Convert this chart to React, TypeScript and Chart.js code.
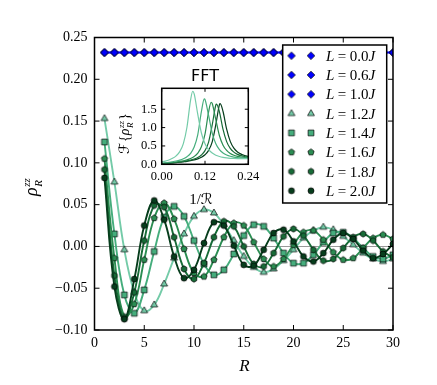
import React, { useEffect, useRef } from "react";
import { Chart, registerables } from "chart.js";

Chart.register(...registerables);

const W = 437;
const H = 385;

// ---------- main panel data ----------
const rValues = [1, 2, 3, 4, 5, 6, 7, 8, 9, 10, 11, 12, 13, 14, 15, 16, 17, 18, 19, 20, 21, 22, 23, 24, 25, 26, 27, 28, 29, 30];
const rhoUniform = [0.232, 0.232, 0.232, 0.232, 0.232, 0.232, 0.232, 0.232, 0.232, 0.232, 0.232, 0.232, 0.232, 0.232, 0.232, 0.232, 0.232, 0.232, 0.232, 0.232, 0.232, 0.232, 0.232, 0.232, 0.232, 0.232, 0.232, 0.232, 0.232, 0.232];
const rhoL12 = [0.153, 0.077, -0.004, -0.055, -0.077, -0.070, -0.045, -0.014, 0.015, 0.036, 0.044, 0.040, 0.026, 0.007, -0.012, -0.025, -0.031, -0.027, -0.017, -0.004, 0.010, 0.019, 0.023, 0.020, 0.012, 0.002, -0.008, -0.015, -0.018, -0.015];
const rhoL14 = [0.125, 0.015, -0.058, -0.080, -0.052, -0.006, 0.035, 0.048, 0.036, 0.007, -0.021, -0.034, -0.028, -0.009, 0.013, 0.026, 0.024, 0.010, -0.008, -0.020, -0.020, -0.010, 0.005, 0.016, 0.017, 0.010, -0.002, -0.012, -0.015, -0.010];
const rhoL16 = [0.105, -0.014, -0.084, -0.069, -0.016, 0.034, 0.052, 0.033, -0.003, -0.032, -0.036, -0.016, 0.011, 0.028, 0.025, 0.005, -0.015, -0.024, -0.015, 0.002, 0.017, 0.019, 0.008, -0.007, -0.016, -0.014, -0.002, 0.010, 0.014, 0.009];
const rhoL18 = [0.092, -0.035, -0.086, -0.055, 0.007, 0.049, 0.047, 0.011, -0.027, -0.039, -0.020, 0.011, 0.030, 0.024, 0.000, -0.021, -0.024, -0.008, 0.012, 0.021, 0.013, -0.004, -0.017, -0.015, -0.002, 0.011, 0.015, 0.007, -0.006, -0.013];
const rhoL20 = [0.082, -0.048, -0.087, -0.039, 0.025, 0.055, 0.032, -0.012, -0.038, -0.028, 0.004, 0.029, 0.025, 0.001, -0.022, -0.023, -0.004, 0.016, 0.020, 0.006, -0.012, -0.018, -0.008, 0.008, 0.016, 0.009, -0.005, -0.014, -0.009, 0.003];

const legendValues = ["0.0", "0.6", "1.0", "1.2", "1.4", "1.6", "1.8", "2.0"];
const xTickValues = [0, 5, 10, 15, 20, 25, 30];
const yTickValues = [-0.1, -0.05, 0, 0.05, 0.1, 0.15, 0.2, 0.25];

// ---------- inset (FFT) data ----------
const fftFreq12 = [0, 0.01, 0.02, 0.03, 0.04, 0.05, 0.06, 0.07, 0.08, 0.086, 0.09, 0.1, 0.11, 0.12, 0.13, 0.14, 0.15, 0.16, 0.17, 0.18, 0.19, 0.2, 0.21, 0.22, 0.23, 0.24];
const fftAmp12 = [0.065, 0.088, 0.118, 0.162, 0.23, 0.346, 0.565, 1.009, 1.747, 1.99, 1.917, 1.357, 0.853, 0.561, 0.398, 0.305, 0.248, 0.213, 0.189, 0.174, 0.164, 0.158, 0.154, 0.152, 0.152, 0.152];
const fftFreq14 = [0, 0.01, 0.02, 0.03, 0.04, 0.05, 0.06, 0.07, 0.08, 0.09, 0.1, 0.11, 0.118, 0.12, 0.13, 0.14, 0.15, 0.16, 0.17, 0.18, 0.19, 0.2, 0.21, 0.22, 0.23, 0.24];
const fftAmp14 = [0.031, 0.042, 0.055, 0.07, 0.089, 0.115, 0.152, 0.207, 0.299, 0.469, 0.81, 1.432, 1.78, 1.764, 1.33, 0.849, 0.558, 0.398, 0.307, 0.252, 0.218, 0.197, 0.183, 0.174, 0.168, 0.165];
const fftFreq16 = [0, 0.01, 0.02, 0.03, 0.04, 0.05, 0.06, 0.07, 0.08, 0.09, 0.1, 0.11, 0.12, 0.13, 0.137, 0.14, 0.15, 0.16, 0.17, 0.18, 0.19, 0.2, 0.21, 0.22, 0.23, 0.24];
const fftAmp16 = [0.022, 0.03, 0.04, 0.05, 0.063, 0.078, 0.097, 0.122, 0.158, 0.213, 0.305, 0.476, 0.822, 1.426, 1.69, 1.656, 1.215, 0.778, 0.521, 0.378, 0.297, 0.248, 0.218, 0.199, 0.187, 0.179];
const fftFreq18 = [0, 0.01, 0.02, 0.03, 0.04, 0.05, 0.06, 0.07, 0.08, 0.09, 0.1, 0.11, 0.12, 0.13, 0.14, 0.15, 0.152, 0.16, 0.17, 0.18, 0.19, 0.2, 0.21, 0.22, 0.23, 0.24];
const fftAmp18 = [0.017, 0.025, 0.033, 0.041, 0.051, 0.063, 0.076, 0.092, 0.114, 0.143, 0.185, 0.253, 0.373, 0.606, 1.071, 1.615, 1.64, 1.428, 0.949, 0.618, 0.434, 0.331, 0.271, 0.235, 0.212, 0.197];
const fftFreq20 = [0, 0.01, 0.02, 0.03, 0.04, 0.05, 0.06, 0.07, 0.08, 0.09, 0.1, 0.11, 0.12, 0.13, 0.14, 0.15, 0.16, 0.162, 0.17, 0.18, 0.19, 0.2, 0.21, 0.22, 0.23, 0.24];
const fftAmp20 = [0.015, 0.022, 0.03, 0.038, 0.047, 0.056, 0.068, 0.081, 0.098, 0.119, 0.148, 0.191, 0.259, 0.379, 0.613, 1.079, 1.625, 1.65, 1.438, 0.957, 0.625, 0.44, 0.337, 0.277, 0.24, 0.217];
const insetXTicks = [0, 0.12, 0.24];
const insetYTicks = [0, 0.5, 1.0, 1.5];

// ---------- styling ----------
const BLUE = "#0000ff";
const GREENS = ["#74cba8", "#45ad7c", "#2b8d52", "#176b37", "#063d1c"];
const SERIF = "'Liberation Serif', 'DejaVu Serif', serif";
const SYM = "'DejaVu Serif', 'DejaVu Sans', serif";

function makeMarker(shape: string, fill: string, r: number): HTMLCanvasElement {
  const s = 12;
  const c = document.createElement("canvas");
  c.width = s;
  c.height = s;
  const ctx = c.getContext("2d")!;
  const cx = s / 2;
  const cy = s / 2;
  ctx.beginPath();
  if (shape === "circle") {
    ctx.arc(cx, cy, r, 0, Math.PI * 2);
  } else {
    const nMap: Record<string, number> = { diamond: 4, triangle: 3, square: 4, pentagon: 5, hexagon: 6 };
    const rotMap: Record<string, number> = { diamond: -Math.PI / 2, triangle: -Math.PI / 2, square: -Math.PI / 4, pentagon: -Math.PI / 2, hexagon: -Math.PI / 2 };
    const n = nMap[shape];
    for (let k = 0; k < n; k++) {
      const a = rotMap[shape] + (k * 2 * Math.PI) / n;
      const px = cx + r * Math.cos(a);
      const py = cy + r * Math.sin(a);
      if (k === 0) ctx.moveTo(px, py);
      else ctx.lineTo(px, py);
    }
    ctx.closePath();
  }
  ctx.fillStyle = fill;
  ctx.fill();
  ctx.lineWidth = 0.7;
  ctx.strokeStyle = "#000";
  ctx.stroke();
  return c;
}

function drawInwardTicks(chart: any, len: number) {
  const ctx = chart.ctx;
  const { left, right, top, bottom } = chart.chartArea;
  const xs = chart.scales.x;
  const ys = chart.scales.y;
  ctx.save();
  ctx.strokeStyle = "#000";
  ctx.lineWidth = 1;
  ctx.beginPath();
  xs.ticks.forEach((t: any) => {
    const px = xs.getPixelForValue(t.value);
    ctx.moveTo(px, bottom);
    ctx.lineTo(px, bottom - len);
    ctx.moveTo(px, top);
    ctx.lineTo(px, top + len);
  });
  ys.ticks.forEach((t: any) => {
    const py = ys.getPixelForValue(t.value);
    ctx.moveTo(left, py);
    ctx.lineTo(left + len, py);
    ctx.moveTo(right, py);
    ctx.lineTo(right - len, py);
  });
  ctx.stroke();
  ctx.lineWidth = 1.5;
  ctx.strokeRect(left, top, right - left, bottom - top);
  ctx.restore();
}

// draws rho_R^{zz} horizontally starting at x (baseline y); returns end x
function drawRho(ctx: CanvasRenderingContext2D, x: number, y: number, big: number, small: number) {
  ctx.font = `italic ${big}px ${SERIF}`;
  ctx.fillText("\u03c1", x, y);
  const w = ctx.measureText("\u03c1").width;
  ctx.font = `italic ${small}px ${SERIF}`;
  ctx.fillText("zz", x + w + 0.5, y - big * 0.38);
  ctx.fillText("R", x + w + 0.5, y + big * 0.3);
  const w2 = Math.max(ctx.measureText("zz").width, ctx.measureText("R").width);
  return x + w + 0.5 + w2;
}

export default function App() {
  const mainRef = useRef<HTMLCanvasElement>(null);
  const insetRef = useRef<HTMLCanvasElement>(null);

  useEffect(() => {
    const specs = [
      { vals: rhoUniform, color: BLUE, shape: "diamond", r: 3.8, bw: 1.6 },
      { vals: rhoUniform, color: BLUE, shape: "diamond", r: 3.8, bw: 1.6 },
      { vals: rhoUniform, color: BLUE, shape: "diamond", r: 3.8, bw: 1.6 },
      { vals: rhoL12, color: GREENS[0], shape: "triangle", r: 4.0, bw: 1.9 },
      { vals: rhoL14, color: GREENS[1], shape: "square", r: 4.1, bw: 1.9 },
      { vals: rhoL16, color: GREENS[2], shape: "pentagon", r: 3.3, bw: 1.9 },
      { vals: rhoL18, color: GREENS[3], shape: "hexagon", r: 3.2, bw: 1.9 },
      { vals: rhoL20, color: GREENS[4], shape: "circle", r: 3.0, bw: 1.9 },
    ];
    const images = specs.map((s) => makeMarker(s.shape, s.color, s.r));

    const mainPlugin = {
      id: "mainDecor",
      afterDraw(chart: any) {
        const ctx = chart.ctx as CanvasRenderingContext2D;
        drawInwardTicks(chart, 5);
        // legend
        ctx.save();
        const lx = 282.7, ly = 45, lw = 104, lh = 158;
        ctx.fillStyle = "#fff";
        ctx.fillRect(lx, ly, lw, lh);
        ctx.strokeStyle = "#000";
        ctx.lineWidth = 1.5;
        ctx.strokeRect(lx, ly, lw, lh);
        ctx.fillStyle = "#000";
        ctx.textBaseline = "alphabetic";
        legendValues.forEach((v, i) => {
          const cy = 55.7 + i * 19.3;
          const img = images[i];
          ctx.drawImage(img, 291.5 - img.width / 2, cy - img.height / 2);
          ctx.drawImage(img, 311 - img.width / 2, cy - img.height / 2);
          let x = 326;
          const by = cy + 5;
          ctx.font = `italic 15px ${SERIF}`;
          ctx.fillText("L", x, by);
          x += ctx.measureText("L").width + 3.5;
          ctx.font = `15px ${SERIF}`;
          ctx.fillText("=", x, by);
          x += ctx.measureText("=").width + 3.5;
          ctx.fillText(v, x, by);
          x += ctx.measureText(v).width;
          ctx.font = `italic 15px ${SERIF}`;
          ctx.fillText("J", x, by);
        });
        // x label
        ctx.font = `italic 17px ${SERIF}`;
        ctx.textAlign = "center";
        ctx.fillText("R", 244.5, 371);
        // y label (rotated)
        ctx.translate(34, 185);
        ctx.rotate(-Math.PI / 2);
        ctx.textAlign = "left";
        drawRho(ctx, -11, 3, 18, 11);
        ctx.restore();
      },
    };

    const main = new Chart(mainRef.current!, {
      type: "line",
      data: {
        datasets: specs.map((s, i) => ({
          label: "L = " + legendValues[i] + "J",
          data: rValues.map((r, j) => ({ x: r, y: s.vals[j] })),
          borderColor: s.color,
          backgroundColor: s.color,
          borderWidth: s.bw,
          pointStyle: images[i] as any,
          pointRadius: 4,
          tension: 0.4,
          fill: false,
          order: 20 - i,
        })),
      },
      options: {
        responsive: false,
        animation: false,
        events: [],
        layout: { padding: { left: 0, right: 44, top: 37.5, bottom: 0 } },
        plugins: { legend: { display: false }, tooltip: { enabled: false } },
        scales: {
          x: {
            type: "linear",
            min: 0,
            max: 30,
            afterBuildTicks: (sc: any) => {
              sc.ticks = xTickValues.map((v) => ({ value: v }));
            },
            afterFit: (sc: any) => {
              sc.height = 55;
            },
            ticks: {
              color: "#000",
              font: { family: SERIF, size: 14 },
              padding: 5,
              maxRotation: 0,
              callback: (v: any) => String(v),
            },
            grid: { display: false, drawTicks: false },
            border: { display: false },
          },
          y: {
            type: "linear",
            min: -0.1,
            max: 0.25,
            afterBuildTicks: (sc: any) => {
              sc.ticks = yTickValues.map((v) => ({ value: v }));
            },
            afterFit: (sc: any) => {
              sc.width = 94.5;
            },
            ticks: {
              color: "#000",
              font: { family: SERIF, size: 14 },
              padding: 7,
              callback: (v: any) => {
                const n = Number(v);
                if (Math.abs(n) < 1e-9) return "0.00";
                return (n < 0 ? "\u2212" : "") + Math.abs(n).toFixed(2);
              },
            },
            grid: {
              drawTicks: false,
              lineWidth: 1,
              color: (c: any) => (c.tick && Math.abs(c.tick.value) < 1e-9 ? "#999999" : "rgba(0,0,0,0)"),
            },
            border: { display: false },
          },
        },
      },
      plugins: [mainPlugin],
    } as any);

    // ---------- inset ----------
    const fftSets = [
      { f: fftFreq12, a: fftAmp12, c: GREENS[0] },
      { f: fftFreq14, a: fftAmp14, c: GREENS[1] },
      { f: fftFreq16, a: fftAmp16, c: GREENS[2] },
      { f: fftFreq18, a: fftAmp18, c: GREENS[3] },
      { f: fftFreq20, a: fftAmp20, c: GREENS[4] },
    ];

    const insetPlugin = {
      id: "insetDecor",
      beforeDraw(chart: any) {
        const ctx = chart.ctx;
        const { left, right, top, bottom } = chart.chartArea;
        ctx.save();
        ctx.fillStyle = "#fff";
        ctx.fillRect(left, top, right - left, bottom - top);
        ctx.restore();
      },
      afterDraw(chart: any) {
        const ctx = chart.ctx as CanvasRenderingContext2D;
        drawInwardTicks(chart, 3.5);
        ctx.save();
        ctx.fillStyle = "#000";
        ctx.textAlign = "center";
        ctx.textBaseline = "alphabetic";
        ctx.font = `16px 'DejaVu Sans', sans-serif`;
        ctx.fillText("FFT", 205, 81);
        // x label 1/R
        ctx.textAlign = "left";
        ctx.font = `15px ${SERIF}`;
        const t1 = "1/";
        const w1 = ctx.measureText(t1).width;
        ctx.font = `15px ${SYM}`;
        const w2 = ctx.measureText("\u211b").width;
        const x0 = 201 - (w1 + w2) / 2;
        ctx.font = `15px ${SERIF}`;
        ctx.fillText(t1, x0, 204);
        ctx.font = `15px ${SYM}`;
        ctx.fillText("\u211b", x0 + w1, 204);
        // y label F{rho}
        ctx.translate(125, 125);
        ctx.rotate(-Math.PI / 2);
        ctx.font = `14px ${SYM}`;
        let x = -29;
        ctx.fillText("\u2131", x, 4);
        x += ctx.measureText("\u2131").width + 1;
        ctx.font = `14px ${SERIF}`;
        ctx.fillText("{", x, 4);
        x += ctx.measureText("{").width;
        x = drawRho(ctx, x, 4, 14, 9);
        ctx.font = `14px ${SERIF}`;
        ctx.fillText("}", x + 1, 4);
        ctx.restore();
      },
    };

    const inset = new Chart(insetRef.current!, {
      type: "line",
      data: {
        datasets: fftSets.map((s) => ({
          data: s.f.map((f, j) => ({ x: f, y: s.a[j] })),
          borderColor: s.c,
          borderWidth: 1.2,
          pointRadius: 0,
          cubicInterpolationMode: "monotone",
          fill: false,
        })),
      },
      options: {
        responsive: false,
        animation: false,
        events: [],
        layout: { padding: { left: 0, right: 188.7, top: 88.3, bottom: 0 } },
        plugins: { legend: { display: false }, tooltip: { enabled: false } },
        scales: {
          x: {
            type: "linear",
            min: 0,
            max: 0.24,
            afterBuildTicks: (sc: any) => {
              sc.ticks = insetXTicks.map((v) => ({ value: v }));
            },
            afterFit: (sc: any) => {
              sc.height = 385 - 164.3;
            },
            ticks: {
              color: "#000",
              font: { family: SERIF, size: 12.5 },
              padding: 5,
              maxRotation: 0,
              callback: (v: any) => Number(v).toFixed(2),
            },
            grid: { display: false, drawTicks: false },
            border: { display: false },
          },
          y: {
            type: "linear",
            min: 0,
            max: 2.07,
            afterBuildTicks: (sc: any) => {
              sc.ticks = insetYTicks.map((v) => ({ value: v }));
            },
            afterFit: (sc: any) => {
              sc.width = 161.7;
            },
            ticks: {
              color: "#000",
              font: { family: SERIF, size: 12.5 },
              padding: 5,
              callback: (v: any) => Number(v).toFixed(1),
            },
            grid: { display: false, drawTicks: false },
            border: { display: false },
          },
        },
      },
      plugins: [insetPlugin],
    } as any);

    return () => {
      main.destroy();
      inset.destroy();
    };
  }, []);

  return (
    <div style={{ position: "absolute", left: 0, top: 0, width: W, height: H, background: "#fff" }}>
      <canvas ref={mainRef} width={W} height={H} style={{ position: "absolute", left: 0, top: 0, width: W, height: H }} />
      <canvas ref={insetRef} width={W} height={H} style={{ position: "absolute", left: 0, top: 0, width: W, height: H }} />
    </div>
  );
}
